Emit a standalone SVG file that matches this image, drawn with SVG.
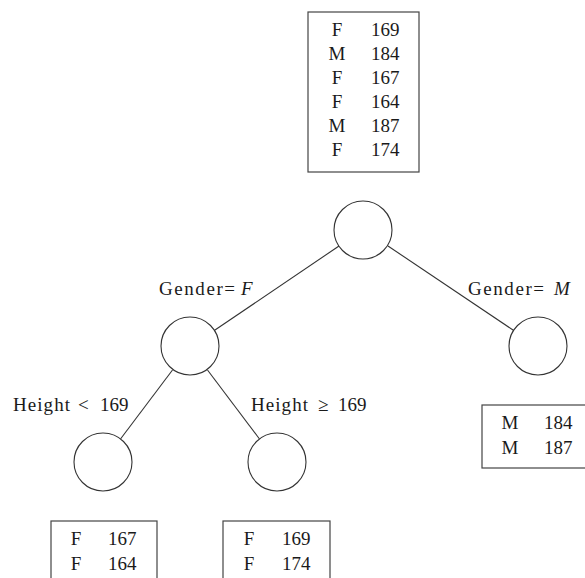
<svg xmlns="http://www.w3.org/2000/svg" width="585" height="578" viewBox="0 0 585 578">
<style>
  .node { fill: #fff; stroke: #333; stroke-width: 1.1; }
  .box { fill: #fff; stroke: #444; stroke-width: 1.2; }
  .edge { stroke: #333; stroke-width: 1.1; fill: none; }
  text { font-family: "Liberation Serif", serif; font-size: 19px; fill: #1a1a1a; }
  .c { text-anchor: middle; }
</style>
<rect width="585" height="578" fill="#fff"/>
<g id="connectors">
  <line class="edge" x1="339" y1="246" x2="215" y2="330"/>
  <line class="edge" x1="388" y1="246" x2="513" y2="330"/>
  <line class="edge" x1="172.5" y1="370" x2="120.5" y2="439"/>
  <line class="edge" x1="207.5" y1="370" x2="259.5" y2="439"/>
</g>
<g id="data-all">
  <rect class="box" x="308" y="12" width="111" height="160"/>
  <text class="c" x="337" y="36">F</text><text x="371" y="36">169</text>
  <text class="c" x="337" y="60">M</text><text x="371" y="60">184</text>
  <text class="c" x="337" y="84">F</text><text x="371" y="84">167</text>
  <text class="c" x="337" y="108">F</text><text x="371" y="108">164</text>
  <text class="c" x="337" y="132">M</text><text x="371" y="132">187</text>
  <text class="c" x="337" y="156">F</text><text x="371" y="156">174</text>
</g>
<g id="root"><circle class="node" cx="363" cy="230" r="29"/></g>
<g id="node-f"><circle class="node" cx="190" cy="346" r="29"/></g>
<g id="node-m"><circle class="node" cx="538" cy="346" r="29"/></g>
<g id="leaf-low"><circle class="node" cx="103" cy="462" r="29"/></g>
<g id="leaf-high"><circle class="node" cx="277" cy="462" r="29"/></g>
<g id="labels">
  <text x="159" y="295"><tspan textLength="76" lengthAdjust="spacing">Gender=</tspan><tspan x="241" font-style="italic">F</tspan></text>
  <text x="468" y="295"><tspan textLength="76" lengthAdjust="spacing">Gender=</tspan><tspan x="554" font-style="italic">M</tspan></text>
  <text x="13" y="411"><tspan textLength="57" lengthAdjust="spacing">Height</tspan><tspan x="78">&lt;</tspan><tspan x="100">169</tspan></text>
  <text x="251" y="411"><tspan textLength="57" lengthAdjust="spacing">Height</tspan><tspan x="318">≥</tspan><tspan x="338">169</tspan></text>
</g>
<g id="data-m">
  <rect class="box" x="482" y="405" width="110" height="63"/>
  <text class="c" x="510" y="429">M</text><text x="544" y="429">184</text>
  <text class="c" x="510" y="454">M</text><text x="544" y="454">187</text>
</g>
<g id="data-low">
  <rect class="box" x="51" y="521" width="106" height="70"/>
  <text class="c" x="76" y="545">F</text><text x="108" y="545">167</text>
  <text class="c" x="76" y="570">F</text><text x="108" y="570">164</text>
</g>
<g id="data-high">
  <rect class="box" x="223" y="521" width="107" height="70"/>
  <text class="c" x="249" y="545">F</text><text x="282" y="545">169</text>
  <text class="c" x="249" y="570">F</text><text x="282" y="570">174</text>
</g>
</svg>
